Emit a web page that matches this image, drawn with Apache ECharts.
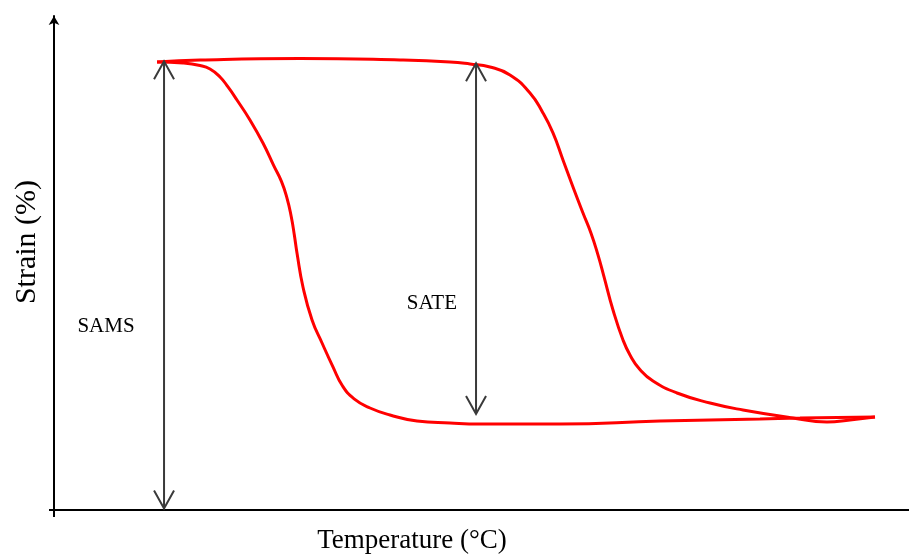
<!DOCTYPE html>
<html>
<head>
<meta charset="utf-8">
<script src="https://cdn.jsdelivr.net/npm/echarts@6/dist/echarts.min.js"></script>
<style>html,body{margin:0;padding:0;background:#fff;}#c{width:909px;height:555px;}</style>
</head>
<body>
<div id="c"></div>
<script>
// Upper branch: plateau, then the heating transformation curve (x: temperature units, y: strain units)
var upperBranch = [
  [12.05, 91.06], [17.08, 91.46], [28.77, 91.77], [40.47, 91.46], [46.32, 91.06], [48.65, 90.65],
  [50.99, 90.04], [53.33, 88.41], [55.67, 84.76], [57.19, 80.69], [58.36, 76.63], [59.53, 71.14],
  [60.70, 65.65], [61.87, 60.37], [62.80, 56.30], [63.63, 51.80], [64.30, 47.60], [65.38, 40.65],
  [66.55, 34.55], [67.40, 31.40], [68.50, 28.60], [70.06, 26.22], [72.87, 23.78], [76.73, 21.75],
  [80.58, 20.33], [86.43, 18.70], [90.41, 17.89], [93.10, 18.29], [96.02, 18.90]
];
// Lower branch: lower plateau, then the cooling transformation curve back up
var lowerBranch = [
  [96.02, 18.90], [87.25, 18.70], [82.57, 18.50], [70.88, 18.09], [59.18, 17.48], [49.82, 17.48],
  [46.32, 17.68], [42.46, 18.09], [39.30, 19.31], [36.96, 20.73], [35.10, 22.60], [33.75, 25.20],
  [32.60, 29.20], [31.35, 33.94], [30.18, 38.62], [29.12, 45.33], [28.42, 52.24], [28.10, 56.00],
  [27.75, 59.60], [27.25, 63.40], [26.60, 66.80], [25.70, 70.00], [24.44, 74.59], [22.92, 79.27],
  [21.40, 83.33], [20.35, 85.98], [19.42, 88.01], [18.25, 89.63], [17.08, 90.34], [15.09, 90.85],
  [12.05, 91.06]
];
// Double arrows: [x, yTop, yBottom]
var arrowNames = ['SAMS', 'SATE'];
var arrowData = [[12.87, 91.2, 0.3], [49.36, 90.8, 19.5]];
// Annotation label positions [x, y]
var labelPos = [[6.08, 37.2], [44.2, 42.07]];
var xTitle = 'Temperature (°C)';
var yTitle = 'Strain (%)';

var chart = echarts.init(document.getElementById('c'), null, {renderer: 'canvas'});
var serif = '"Liberation Serif", "Times New Roman", serif';

var option = {
  animation: false,
  backgroundColor: '#ffffff',
  grid: {left: 54, right: 0, top: 16, bottom: 45, containLabel: false},
  xAxis: {
    type: 'value', min: 0, max: 100,
    axisLine: {show: true, onZero: false, lineStyle: {color: '#000', width: 2}},
    axisTick: {show: true, customValues: [0], length: 7, lineStyle: {color: '#000', width: 2}},
    axisLabel: {show: false},
    splitLine: {show: false}
  },
  yAxis: {
    type: 'value', min: 0, max: 100.4,
    axisLine: {show: true, onZero: false, symbol: ['none', 'arrow'], symbolSize: [8, 9], lineStyle: {color: '#000', width: 2}},
    axisTick: {show: true, customValues: [0], length: 5, lineStyle: {color: '#000', width: 2}},
    axisLabel: {show: false},
    splitLine: {show: false}
  },
  graphic: [
    {type: 'text', x: 412, y: 541, style: {text: xTitle, font: '27px ' + serif, fill: '#000', align: 'center', verticalAlign: 'middle'}},
    {type: 'text', x: 27, y: 242, rotation: Math.PI / 2, style: {text: yTitle, font: '30px ' + serif, fill: '#000', align: 'center', verticalAlign: 'middle'}}
  ],
  series: [
    {
      type: 'line', name: 'upper', data: upperBranch, smooth: 0.5, symbol: 'none',
      lineStyle: {color: '#ff0000', width: 3}, z: 3
    },
    {
      type: 'line', name: 'lower', data: lowerBranch, smooth: 0.5, symbol: 'none',
      lineStyle: {color: '#ff0000', width: 3}, z: 3
    },
    {
      type: 'custom', name: 'arrows', data: arrowData, clip: false, z: 4,
      renderItem: function (params, api) {
        var top = api.coord([api.value(0), api.value(1)]);
        var bot = api.coord([api.value(0), api.value(2)]);
        var st = {stroke: '#3a3a3a', lineWidth: 2, fill: null};
        return {
          type: 'group',
          children: [
            {type: 'line', shape: {x1: top[0], y1: top[1], x2: bot[0], y2: bot[1]}, style: st},
            {type: 'polyline', shape: {points: [[top[0] - 10, top[1] + 18], top, [top[0] + 10, top[1] + 18]]}, style: st},
            {type: 'polyline', shape: {points: [[bot[0] - 10, bot[1] - 18], bot, [bot[0] + 10, bot[1] - 18]]}, style: st}
          ]
        };
      }
    },
    {
      type: 'custom', name: 'labels', clip: false, z: 5,
      data: labelPos,
      renderItem: function (params, api) {
        var p = api.coord([api.value(0), api.value(1)]);
        return {
          type: 'text', x: p[0], y: p[1],
          style: {text: arrowNames[params.dataIndex], font: '21px ' + serif, fill: '#000', align: 'center', verticalAlign: 'middle'}
        };
      }
    }
  ]
};
chart.setOption(option);
</script>
</body>
</html>
